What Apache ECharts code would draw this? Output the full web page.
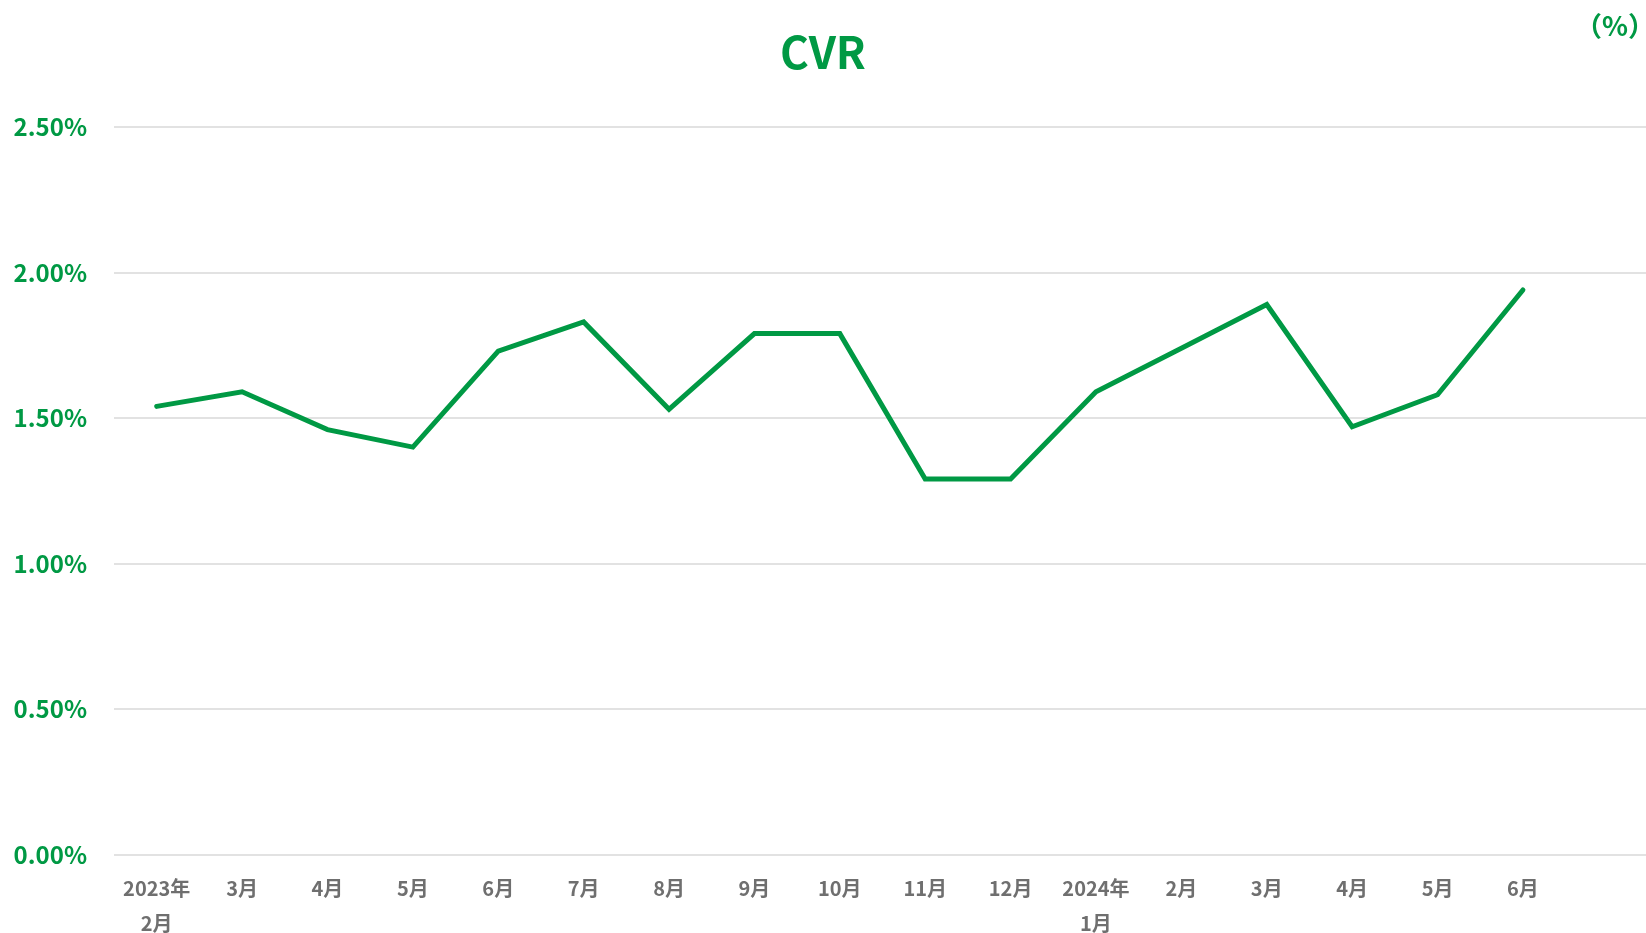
<!DOCTYPE html>
<html>
<head>
<meta charset="utf-8">
<script src="https://cdn.jsdelivr.net/npm/echarts@6/dist/echarts.min.js"></script>
<style>
  html, body { margin: 0; padding: 0; background: #fff; }
  #vis { width: 1646px; height: 933px; }
</style>
</head>
<body>
<div id="vis"></div>
<script>
// months, last slot is an empty spacer like in the original sheet
const months = ['2023年\n2月', '3月', '4月', '5月', '6月', '7月', '8月', '9月', '10月',
  '11月', '12月', '2024年\n1月', '2月', '3月', '4月', '5月', '6月', '']
const cvr = [1.54, 1.59, 1.46, 1.40, 1.73, 1.83, 1.53, 1.79, 1.79,
  1.29, 1.29, 1.59, 1.74, 1.89, 1.47, 1.58, 1.94, null]
const yTicks = [0, 0.5, 1.0, 1.5, 2.0, 2.5]

const green = '#009944'
const font = '"Noto Sans CJK JP", "Noto Sans", sans-serif'

const chart = echarts.init(document.getElementById('vis'), null, { renderer: 'canvas' })

chart.setOption({
  animation: false,
  title: [
    {
      text: 'CVR',
      left: 'center',
      top: 25,
      textStyle: { color: green, fontSize: 44, fontWeight: 'bold', fontFamily: font }
    },
    {
      text: '（%）',
      right: -14,
      top: 7,
      textStyle: { color: green, fontSize: 27, fontWeight: 'bold', fontFamily: font }
    }
  ],
  // the plot runs a little past the right edge, as in the original
  grid: { left: 114, right: -5, top: 127, bottom: 78.5, containLabel: false, outerBoundsMode: 'none' },
  xAxis: {
    type: 'category',
    data: months,
    boundaryGap: true,
    axisLine: { show: false },
    axisTick: { show: false },
    axisLabel: {
      interval: 0,
      margin: 16,
      color: '#6f6f6f',
      fontSize: 20,
      fontWeight: 'bold',
      fontFamily: font,
      lineHeight: 35
    }
  },
  yAxis: {
    type: 'value',
    min: yTicks[0],
    max: yTicks[yTicks.length - 1],
    interval: 0.5,
    axisLine: { show: false },
    axisTick: { show: false },
    splitLine: { lineStyle: { color: '#d9d9d9', width: 1.5 } },
    axisLabel: {
      margin: 27,
      color: green,
      fontSize: 24,
      fontWeight: 'bold',
      fontFamily: font,
      formatter: v => v.toFixed(2) + '%'
    }
  },
  series: [
    {
      type: 'line',
      data: cvr,
      showSymbol: false,
      symbol: 'none',
      connectNulls: false,
      lineStyle: { color: green, width: 5, cap: 'round', join: 'miter' }
    }
  ]
})

window.addEventListener('resize', () => chart.resize())
</script>
</body>
</html>
